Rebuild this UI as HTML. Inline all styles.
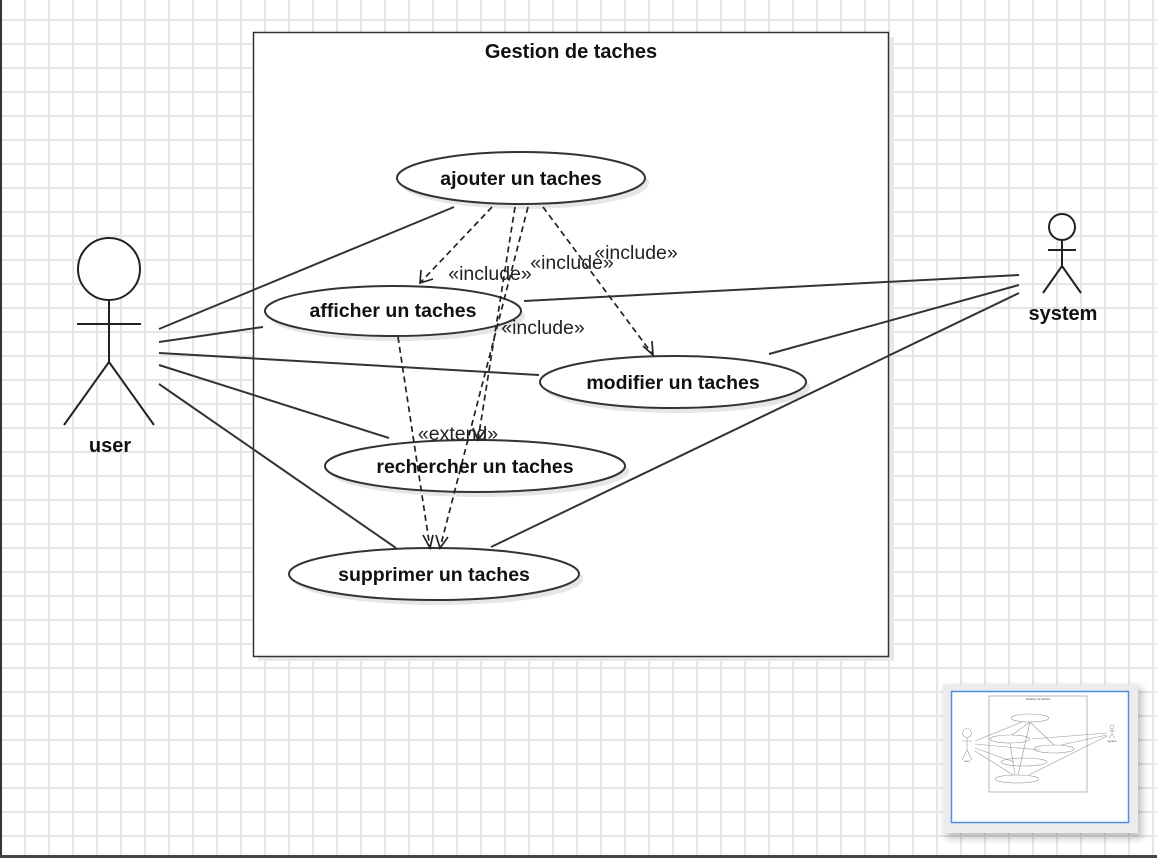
<!DOCTYPE html>
<html><head><meta charset="utf-8"><style>
html,body{margin:0;padding:0;width:1157px;height:858px;overflow:hidden;background:#fff}
svg{display:block}
text{font-family:"Liberation Sans",Arial,sans-serif}
</style></head><body>
<svg width="1157" height="858" xmlns="http://www.w3.org/2000/svg">
<defs>
<pattern id="g" x="0" y="19" width="24" height="24" patternUnits="userSpaceOnUse">
<path d="M0 1H24M1 0V24" stroke="#e6e6e6" stroke-width="2.2" fill="none"/>
</pattern>
<filter id="sh" x="-20%" y="-20%" width="140%" height="140%"><feGaussianBlur stdDeviation="4"/></filter>
</defs>
<rect width="1157" height="858" fill="url(#g)"/>
<line x1="1" y1="0" x2="1" y2="858" stroke="#333" stroke-width="2"/>
<line x1="0" y1="856.5" x2="1157" y2="856.5" stroke="#444" stroke-width="3"/>

<rect x="258" y="37" width="636" height="624" fill="#e8e8e8"/>
<rect x="253.5" y="32.5" width="635" height="624" fill="#fff" stroke="#333" stroke-width="1.5"/>
<text x="571" y="58" font-size="20" font-weight="bold" text-anchor="middle" fill="#111">Gestion de taches</text>

<g fill="#e6e6e6">
<ellipse cx="525" cy="183" rx="124" ry="26"/>
<ellipse cx="397" cy="316" rx="128" ry="25"/>
<ellipse cx="677" cy="387" rx="133" ry="26"/>
<ellipse cx="479" cy="471" rx="150" ry="26"/>
<ellipse cx="438" cy="579" rx="145" ry="26"/>
</g>

<g stroke="#333" stroke-width="2" fill="none">
<line x1="159" y1="329" x2="454" y2="207"/>
<line x1="159" y1="342" x2="263" y2="327"/>
<line x1="159" y1="353" x2="539" y2="375"/>
<line x1="159" y1="365" x2="389" y2="438"/>
<line x1="159" y1="384" x2="396" y2="548"/>
<line x1="524" y1="301" x2="1019" y2="275"/>
<line x1="769" y1="354" x2="1019" y2="285"/>
<line x1="491" y1="547" x2="1019" y2="293"/>
</g>

<g fill="#fff" stroke="#333" stroke-width="2">
<ellipse cx="521" cy="178" rx="124" ry="26"/>
<ellipse cx="393" cy="311" rx="128" ry="25"/>
<ellipse cx="673" cy="382" rx="133" ry="26"/>
<ellipse cx="475" cy="466" rx="150" ry="26"/>
<ellipse cx="434" cy="574" rx="145" ry="26"/>
</g>

<g stroke="#222" stroke-width="1.7" fill="none" stroke-dasharray="6,4">
<line x1="492" y1="207" x2="420" y2="283"/>
<line x1="543" y1="207" x2="653" y2="355"/>
<line x1="515" y1="207" x2="478" y2="440"/>
<line x1="528" y1="207" x2="440" y2="548"/>
<line x1="398" y1="337" x2="430" y2="548"/>
</g>
<g stroke="#222" stroke-width="1.7" fill="none">
<polyline points="421,270 420,283 433,279"/>
<polyline points="643,346 653,355 652,341"/>
<polyline points="473,428 478,440 486,429"/>
<polyline points="436,535 440,548 448,537"/>
<polyline points="423,535 430,548 433,535"/>
</g>

<g font-size="19.5" fill="#111" font-weight="bold" text-anchor="middle">
<text x="521" y="185">ajouter un taches</text>
<text x="393" y="317">afficher un taches</text>
<text x="673" y="389">modifier un taches</text>
<text x="475" y="473">rechercher un taches</text>
<text x="434" y="581">supprimer un taches</text>
</g>
<g font-size="19.5" fill="#222" text-anchor="middle">
<text x="490" y="280">«include»</text>
<text x="572" y="269">«include»</text>
<text x="636" y="259">«include»</text>
<text x="543" y="334">«include»</text>
<text x="458" y="440">«extend»</text>
</g>

<g stroke="#222" stroke-width="2" fill="#fff">
<circle cx="109" cy="269" r="31"/>
<line x1="109" y1="300" x2="109" y2="362"/>
<line x1="77" y1="324" x2="141" y2="324"/>
<polyline points="64,425 109,362 154,425" fill="none"/>
</g>
<text x="110" y="452" font-size="20" font-weight="bold" text-anchor="middle" fill="#111">user</text>

<g stroke="#222" stroke-width="2" fill="#fff">
<circle cx="1062" cy="227" r="13"/>
<line x1="1062" y1="240" x2="1062" y2="266"/>
<line x1="1048" y1="250" x2="1076" y2="250"/>
<polyline points="1043,293 1062,266 1081,293" fill="none"/>
</g>
<text x="1063" y="320" font-size="20" font-weight="bold" text-anchor="middle" fill="#111">system</text>

<rect x="946" y="688" width="196" height="150" fill="#000" opacity="0.25" filter="url(#sh)"/>
<rect x="943" y="684" width="195" height="149" fill="#ececec"/>
<rect x="951.5" y="691.5" width="177" height="131" fill="#fff" stroke="#4a90e2" stroke-width="1.5"/>
<g stroke="#999" stroke-width="0.6" fill="none">
<rect x="989" y="696" width="98" height="96" stroke="#888"/>
<ellipse cx="1030" cy="718" rx="19" ry="4"/>
<ellipse cx="1010" cy="739" rx="20" ry="4"/>
<ellipse cx="1054" cy="749" rx="20" ry="4"/>
<ellipse cx="1024" cy="762" rx="23" ry="4"/>
<ellipse cx="1017" cy="779" rx="22" ry="4"/>
<circle cx="967" cy="733" r="4.5"/>
<path d="M967 738V750M962 741H972M962 760L967 750L972 760"/>
<circle cx="1112" cy="727" r="2"/>
<path d="M1112 729V734M1109 731H1115M1109 738L1112 734L1115 738"/>
<path d="M975 741L1022 722M975 744L1040 750M975 748L1014 762M975 751L1013 775M1032 739L1107 733M1061 745L1107 735M1029 775L1107 736"/>
<path d="M1030 722L1012 735M1030 722L1054 745M1030 722L1018 775M1010 743L1015 775"/>
</g>
<g font-size="3" fill="#444" text-anchor="middle">
<text x="1038" y="700">Gestion de taches</text>
<text x="967" y="762">user</text>
<text x="1112" y="742">system</text>
</g>
</svg>
</body></html>
